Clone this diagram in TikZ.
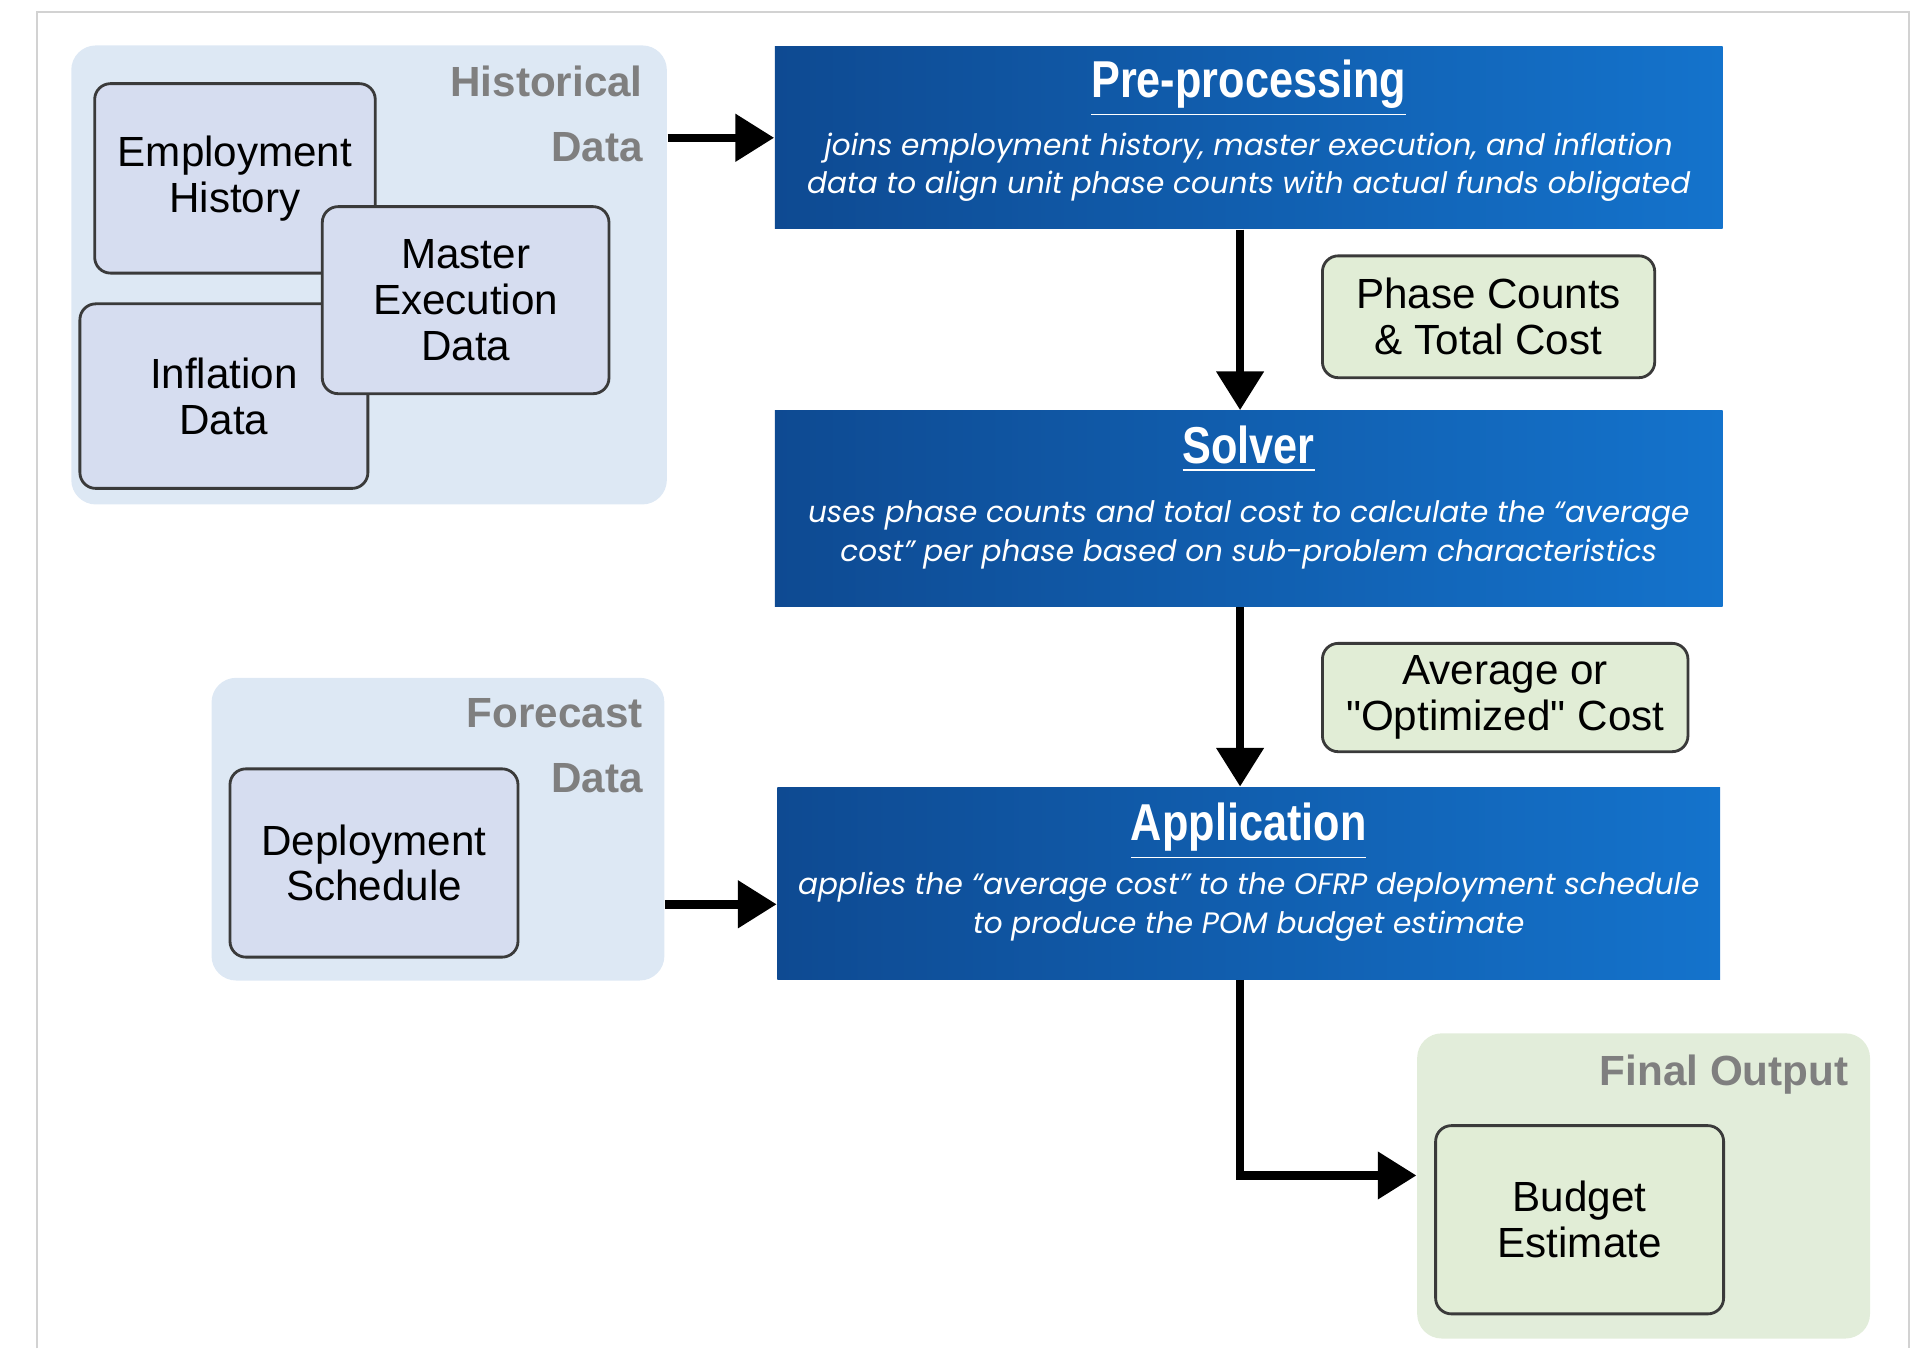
\documentclass[tikz,border=0pt]{standalone}
\usepackage{fontspec}
\setmainfont{Liberation Sans}
\newfontfamily\descfont{Poppins}
\usetikzlibrary{arrows.meta, positioning, calc}

\definecolor{grpblue}{HTML}{DDE8F4}
\definecolor{grpgreen}{HTML}{E2EDDA}
\definecolor{itemblue}{HTML}{D6DDF0}
\definecolor{itemgreen}{HTML}{E1EDD6}
\definecolor{itemline}{HTML}{3A3A3A}
\definecolor{grptext}{HTML}{7F7F7F}
\definecolor{stageleft}{HTML}{0E4A92}
\definecolor{stageright}{HTML}{1473CC}

\begin{document}
\begin{tikzpicture}[x=0.012302cm, y=-0.012302cm,
      group/.style={
        rectangle, rounded corners=7pt, inner sep=0pt
      },
      item/.style={
        rectangle, rounded corners=4.5pt, inner sep=0pt,
        draw=itemline, line width=0.8pt, align=center,
        font=\fontsize{12}{13}\selectfont
      },
      stage/.style={
        rectangle, inner sep=0pt,
        left color=stageleft, right color=stageright
      },
      title/.style={
        font=\fontsize{12.3}{14}\selectfont\bfseries, text=white,
        yscale=1.2, transform shape
      },
      desc/.style={
        font=\descfont\itshape\fontsize{8.4}{11}\selectfont,
        text=white, align=center
      },
      grplabel/.style={
        font=\fontsize{12}{18.5}\selectfont\bfseries, text=grptext,
        align=right, anchor=north east, inner sep=0pt
      },
      arr/.style={
        -{Triangle[length=11pt, width=13pt]}, line width=2.4pt
      }
    ]
    \useasboundingbox (0,0) rectangle (1568,1096);

    % --- Outer frame ---
    \draw[gray!35, line width=0.6pt] (30,1096) -- (30,10) -- (1552,10) -- (1552,1096);

    % --- Data groups ---
    \node[group, fill=grpblue, minimum width=5.954cm, minimum height=4.589cm] (hist) at (300,223.5) {};
    \node[group, fill=grpblue, minimum width=4.527cm, minimum height=3.026cm] (fore) at (356,674) {};
    \node[group, fill=grpgreen, minimum width=4.527cm, minimum height=3.051cm] (final) at (1336,964) {};

    \node[grplabel] (histlbl) at (523,53) {Historical\\Data};
    \node[grplabel] (forelbl) at (523,567) {Forecast\\Data};
    \node[grplabel] (finallbl) at (1503,857) {Final Output};

    % --- Input boxes ---
    \node[item, fill=itemblue, minimum width=2.805cm, minimum height=1.894cm] (emp) at (191,145) {Employment\\History};
    \node[item, fill=itemblue, minimum width=2.879cm, minimum height=1.845cm] (infl) at (182,322) {Inflation\\Data};
    \node[item, fill=itemblue, minimum width=2.866cm, minimum height=1.870cm] (mex) at (378.5,244) {Master\\Execution\\Data};
    \node[item, fill=itemblue, minimum width=2.879cm, minimum height=1.882cm] (dep) at (304,701.5) {Deployment\\Schedule};
    \node[item, fill=itemgreen, minimum width=2.879cm, minimum height=1.882cm] (budget) at (1284,991.5) {Budget\\Estimate};

    % --- Stage boxes ---
    \node[stage, minimum width=9.473cm, minimum height=1.821cm] (pre) at (1015,112) {};
    \node[stage, minimum width=9.473cm, minimum height=1.956cm] (solver) at (1015,413.5) {};
    \node[stage, minimum width=9.423cm, minimum height=1.919cm] (app) at (1015,718) {};

    \node[title] (pretitle) at (1015,72) {\underline{Pre-processing}};
    \node[desc] (predesc) at (1015,136) {joins employment history, master execution, and inflation\\data to align unit phase counts with actual funds obligated};
    \node[title] (soltitle) at (1015,365) {\underline{Solver}};
    \node[desc] (soldesc) at (1015,435) {uses phase counts and total cost to calculate the “average\\cost” per phase based on sub-problem characteristics};
    \node[title] (apptitle) at (1015,676) {\underline{Application}};
    \node[desc] (appdesc) at (1015,737) {applies the “average cost” to the OFRP deployment schedule\\to produce the POM budget estimate};

    % --- Intermediate results ---
    \node[item, fill=itemgreen, minimum width=3.322cm, minimum height=1.218cm] (counts) at (1210,257.5) {Phase Counts\\\& Total Cost};
    \node[item, fill=itemgreen, minimum width=3.654cm, minimum height=1.083cm] (avg) at (1223.5,567) {Average or\\\textquotedbl Optimized\textquotedbl{} Cost};

    % --- Arrows ---
    \coordinate (appin) at ([yshift=-0.21cm]app.west);
    \coordinate (outin) at ($(final.west |- budget.west)+(0,-36)$);
    \draw[arr] (hist.east |- pre.west) -- (pre.west);
    \draw[arr] (fore.east |- appin) -- (appin);
    \draw[arr] ([xshift=-0.086cm]pre.south) -- ([xshift=-0.086cm]solver.north);
    \draw[arr] ([xshift=-0.086cm]solver.south) -- ([xshift=-0.086cm]app.north);
    \draw[arr] ([xshift=-0.086cm]app.south) |- (outin);

  \end{tikzpicture}
\end{document}
